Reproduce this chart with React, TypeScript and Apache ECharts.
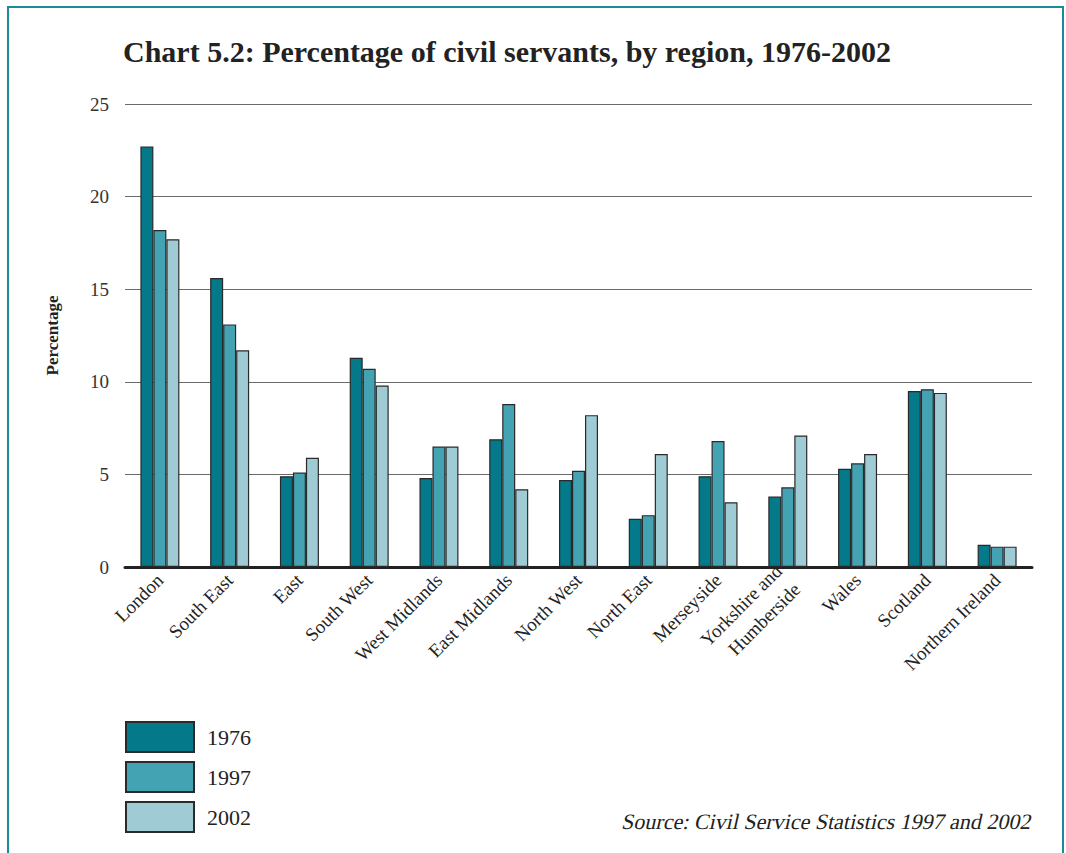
import React, { useEffect, useRef } from "react";
import * as echarts from "echarts";

const regions = [
  "London", "South East", "East", "South West", "West Midlands", "East Midlands",
  "North West", "North East", "Merseyside", "Yorkshire and\nHumberside", "Wales",
  "Scotland", "Northern Ireland",
];
const v1976 = [22.7, 15.6, 4.9, 11.3, 4.8, 6.9, 4.7, 2.6, 4.9, 3.8, 5.3, 9.5, 1.2];
const v1997 = [18.2, 13.1, 5.1, 10.7, 6.5, 8.8, 5.2, 2.8, 6.8, 4.3, 5.6, 9.6, 1.1];
const v2002 = [17.7, 11.7, 5.9, 9.8, 6.5, 4.2, 8.2, 6.1, 3.5, 7.1, 6.1, 9.4, 1.1];
const seriesNames = ["1976", "1997", "2002"];
const colors = ["#03798a", "#44a3b3", "#9fcbd4"];
const yTicks = [0, 5, 10, 15, 20, 25];

const FONT = "Liberation Serif";

export default function App() {
  const ref = useRef<HTMLDivElement>(null);
  useEffect(() => {
    if (!ref.current) return;
    const chart = echarts.init(ref.current, undefined, { renderer: "svg" });
    const data = [v1976, v1997, v2002];
    chart.setOption({
      animation: false,
      backgroundColor: "#ffffff",
      textStyle: { fontFamily: FONT },
      title: {
        text: "Chart 5.2: Percentage of civil servants, by region, 1976-2002",
        left: 118,
        top: 31,
        textStyle: { fontFamily: FONT, fontSize: 30, fontWeight: "bold", color: "#222" },
      },
      grid: { left: 125, right: 34, top: 104, bottom: 286, containLabel: false },
      legend: {
        orient: "vertical",
        left: 120,
        top: 716,
        itemWidth: 68,
        itemHeight: 30,
        itemGap: 8,
        data: seriesNames,
        icon: "rect",
        textStyle: { fontFamily: FONT, fontSize: 22, color: "#222", padding: [0, 0, 0, 8] },
      },
      xAxis: {
        type: "category",
        data: regions,
        axisLine: { show: true, lineStyle: { color: "#222", width: 3 } },
        axisTick: { show: false },
        axisLabel: {
          rotate: 45,
          interval: 0,
          margin: 10,
          fontFamily: FONT,
          fontSize: 19,
          color: "#222",
          lineHeight: 26,
        },
      },
      yAxis: {
        type: "value",
        min: 0,
        max: 25,
        interval: 5,
        name: "Percentage",
        nameLocation: "middle",
        nameGap: 64,
        nameRotate: 90,
        nameTextStyle: { fontFamily: FONT, fontSize: 17, fontWeight: "bold", color: "#222" },
        axisLine: { show: false },
        axisTick: { show: false },
        axisLabel: {
          fontFamily: FONT,
          fontSize: 19,
          color: "#333",
          margin: 16,
          formatter: (v: number) => (yTicks.includes(v) ? String(v) : ""),
        },
        splitLine: { show: true, lineStyle: { color: "#6a6a6a", width: 1.2 } },
      },
      series: data.map((d, i) => ({
        name: seriesNames[i],
        type: "bar",
        data: d,
        barWidth: 13,
        barGap: "0%",
        itemStyle: { color: colors[i], borderColor: "#2a2a2a", borderWidth: 1.2 },
      })),
      graphic: [
        { type: "line", shape: { x1: 8, y1: 7, x2: 1063, y2: 7 }, style: { stroke: "#1b8b9b", lineWidth: 2 } },
        { type: "line", shape: { x1: 8, y1: 6, x2: 8, y2: 853 }, style: { stroke: "#1b8b9b", lineWidth: 2 } },
        { type: "line", shape: { x1: 1063, y1: 6, x2: 1063, y2: 853 }, style: { stroke: "#1b8b9b", lineWidth: 2 } },
        {
          type: "text",
          x: 1032,
          y: 822,
          skewX: -0.22,
          style: {
            text: "Source: Civil Service Statistics 1997 and 2002",
            fontFamily: FONT,
            fontSize: 22,
            fill: "#222",
            align: "right",
            verticalAlign: "middle",
          },
        },
      ],
    });
    return () => chart.dispose();
  }, []);
  return (
    <div
      ref={ref}
      style={{ position: "absolute", left: 0, top: 0, width: 1066, height: 853 }}
    />
  );
}
